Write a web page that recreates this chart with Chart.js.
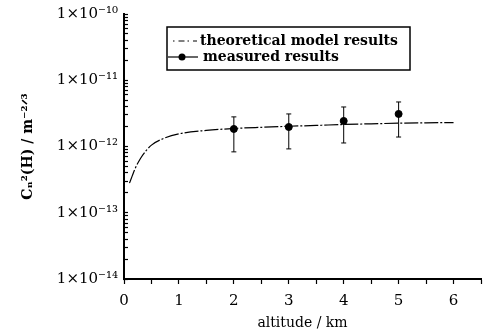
<!DOCTYPE html>
<html>
<head>
<meta charset="utf-8">
<script src="https://cdn.jsdelivr.net/npm/chart.js@4/dist/chart.umd.min.js"></script>
<style>
  html, body { margin: 0; padding: 0; background: #fff; }
  #wrap { width: 486px; height: 336px; }
</style>
</head>
<body>
<div id="wrap"><canvas id="chart" width="486" height="336"></canvas></div>
<script>
// 이론 모델 곡선 (altitude km, Cn2)
const modelAlt = [0.1, 0.15, 0.2, 0.3, 0.4, 0.5, 0.7, 1.0, 1.5, 2, 2.5, 3, 3.5, 4, 4.5, 5, 5.5, 6];
const modelCn2 = [2.8e-13, 3.6e-13, 4.6e-13, 6.6e-13, 8.6e-13, 1.05e-12, 1.3e-12, 1.55e-12, 1.75e-12,
  1.87e-12, 1.95e-12, 2.02e-12, 2.08e-12, 2.15e-12, 2.2e-12, 2.25e-12, 2.28e-12, 2.3e-12];

// 측정값 + 오차 막대
const measAlt = [2, 3, 4, 5];
const measCn2 = [1.84e-12, 1.97e-12, 2.43e-12, 3.1e-12];
const measLow = [8.3e-13, 9.2e-13, 1.13e-12, 1.39e-12];
const measHigh = [2.8e-12, 3.1e-12, 3.95e-12, 4.7e-12];

// 축 눈금
const xTickLabels = [0, 1, 2, 3, 4, 5, 6];
const yMajorTicks = [1e-14, 1e-13, 1e-12, 1e-11, 1e-10];
const yTickLabels = ["1×10⁻¹⁴", "1×10⁻¹³", "1×10⁻¹²", "1×10⁻¹¹", "1×10⁻¹⁰"];

const legendLabels = ["theoretical model results", "measured results"];

const serif = "'DejaVu Serif', 'Liberation Serif', serif";

const errData = [];
for (let i = 0; i < measAlt.length; i++) {
  errData.push({ x: measAlt[i], y: measLow[i] });
  errData.push({ x: measAlt[i], y: measHigh[i] });
  errData.push({ x: measAlt[i], y: null });
}

// 범례 박스 (차트 영역 안쪽)
const legendBox = {
  id: "legendBox",
  afterDraw(chart) {
    const { ctx, chartArea } = chart;
    const x0 = chartArea.left + 43;
    const y0 = chartArea.top + 13;
    const w = 243, h = 43;
    ctx.save();
    ctx.strokeStyle = "#000";
    ctx.lineWidth = 1.5;
    ctx.strokeRect(x0, y0, w, h);

    // theoretical
    ctx.lineWidth = 1;
    ctx.setLineDash([1.5, 4, 6, 3]);
    ctx.beginPath();
    ctx.moveTo(x0 + 6, y0 + 14);
    ctx.lineTo(x0 + 30, y0 + 14);
    ctx.stroke();
    ctx.setLineDash([]);

    // measured
    ctx.lineWidth = 1.2;
    ctx.beginPath();
    ctx.moveTo(x0 + 1, y0 + 30);
    ctx.lineTo(x0 + 31, y0 + 30);
    ctx.stroke();
    ctx.beginPath();
    ctx.arc(x0 + 15, y0 + 30, 3.5, 0, Math.PI * 2);
    ctx.fillStyle = "#000";
    ctx.fill();

    ctx.fillStyle = "#000";
    ctx.font = "bold 14px " + serif;
    ctx.textBaseline = "middle";
    ctx.fillText(legendLabels[0], x0 + 33, y0 + 14);
    ctx.fillText(legendLabels[1], x0 + 36, y0 + 30);
    ctx.restore();
  },
};

new Chart(document.getElementById("chart"), {
  type: "line",
  data: {
    datasets: [
      {
        label: legendLabels[0],
        data: modelAlt.map((x, i) => ({ x: x, y: modelCn2[i] })),
        borderColor: "#000",
        borderWidth: 1.2,
        borderDash: [14, 2, 2, 2],
        pointRadius: 0,
        tension: 0.4,
        cubicInterpolationMode: "monotone",
      },
      {
        label: "error",
        data: errData,
        borderColor: "#000",
        borderWidth: 1,
        pointStyle: "line",
        pointRadius: 2.5,
        pointBorderWidth: 1,
        pointBorderColor: "#000",
        spanGaps: false,
      },
      {
        label: legendLabels[1],
        data: measAlt.map((x, i) => ({ x: x, y: measCn2[i] })),
        showLine: false,
        pointRadius: 3.5,
        pointBackgroundColor: "#000",
        pointBorderColor: "#000",
      },
    ],
  },
  options: {
    responsive: false,
    animation: false,
    layout: { padding: { left: 4, right: 4, top: 14, bottom: 0 } },
    plugins: { legend: { display: false }, tooltip: { enabled: false } },
    scales: {
      x: {
        type: "linear",
        min: 0,
        max: 6.5,
        border: { display: true, color: "#000", width: 2 },
        grid: { drawOnChartArea: false, color: "#000", tickLength: 5, tickWidth: 1.2 },
        ticks: {
          stepSize: 0.5,
          autoSkip: false,
          maxRotation: 0,
          color: "#000",
          font: { family: serif, size: 15 },
          padding: 8,
          callback: (v) => (xTickLabels.includes(v) ? String(v) : ""),
        },
        title: {
          display: true,
          text: "altitude / km",
          color: "#000",
          font: { family: serif, size: 14 },
          padding: { top: 0 },
        },
        afterFit: (s) => {
          s.height = 57;
          s.paddingLeft = 0;
          s.paddingRight = 0;
        },
      },
      y: {
        type: "logarithmic",
        min: 1e-14,
        max: 1e-10,
        border: { display: true, color: "#000", width: 2 },
        grid: { drawOnChartArea: false, color: "#000", tickLength: -4, tickWidth: 1.2 },
        afterBuildTicks: (s) => {
          const t = [];
          for (let e = -14; e < -10; e++) {
            for (let m = 1; m < 10; m++) t.push({ value: m * Math.pow(10, e) });
          }
          t.push({ value: 1e-10 });
          s.ticks = t;
        },
        ticks: {
          autoSkip: false,
          color: "#000",
          font: { family: serif, size: 15 },
          padding: 10,
          callback: (v) => {
            const k = yMajorTicks.findIndex((m) => Math.abs(m - v) / m < 1e-6);
            return k >= 0 ? yTickLabels[k] : "";
          },
        },
        title: {
          display: true,
          text: "Cₙ²(H) / m⁻²ᐟ³",
          color: "#000",
          font: { family: serif, size: 14, weight: "bold" },
          padding: { top: 16, bottom: 0 },
        },
        afterFit: (s) => {
          s.width = 120;
          s.paddingTop = 0;
          s.paddingBottom = 0;
        },
      },
    },
  },
  plugins: [legendBox],
});
</script>
</body>
</html>
